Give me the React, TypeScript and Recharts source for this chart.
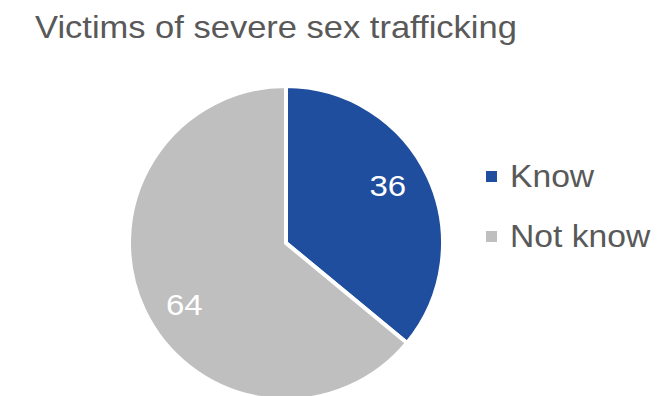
import React from 'react';
import { Cell, Legend, Pie, PieChart } from 'recharts';

const categories = ['Know', 'Not know'];
const values = [36, 64];
const sliceColors = ['#1F4E9E', '#BFBFBF'];

const TITLE = 'Victims of severe sex trafficking';
const FONT = '"Liberation Sans", Arial, Helvetica, sans-serif';
const RADIAN = Math.PI / 180;

const data = categories.map((name, index) => ({ name, value: values[index] }));

type LabelProps = {
  cx: number;
  cy: number;
  midAngle: number;
  outerRadius: number;
  value: number;
};

function SliceLabel({ cx, cy, midAngle, outerRadius, value }: LabelProps) {
  // excel nudges the labels a little counter-clockwise from the mid angle
  const angle = (midAngle + 5) * RADIAN;
  const r = outerRadius * 0.75;
  const x = cx + r * Math.cos(-angle);
  const y = cy + r * Math.sin(-angle) + 2;
  return (
    <text
      x={0}
      y={0}
      transform={`translate(${x},${y}) scale(1.1,1)`}
      fill="#fff"
      textAnchor="middle"
      dominantBaseline="central"
      style={{ fontFamily: FONT, fontSize: 30 }}
    >
      {value}
    </text>
  );
}

function LegendContent({ payload }: { payload?: Array<{ value: string; color: string }> }) {
  if (!payload) {
    return null;
  }
  return (
    <div style={{ fontFamily: FONT }}>
      {payload.map(entry => (
        <div key={entry.value} style={{ display: 'flex', alignItems: 'center', height: 60 }}>
          <span style={{ width: 11, height: 11, background: entry.color, marginRight: 13, display: 'inline-block' }} />
          <span
            style={{
              fontSize: 31,
              lineHeight: 1,
              color: '#595959',
              display: 'inline-block',
              transform: 'scaleX(1.085)',
              transformOrigin: 'left center',
              whiteSpace: 'nowrap'
            }}
          >
            {entry.value}
          </span>
        </div>
      ))}
    </div>
  );
}

export default function App() {
  return (
    <div style={{ position: 'absolute', left: 0, top: 0, width: 661, height: 396, background: '#fff', overflow: 'hidden' }}>
      <div
        style={{
          position: 'absolute',
          left: 35,
          top: 11,
          fontFamily: FONT,
          fontSize: 32,
          lineHeight: 1,
          color: '#595959',
          whiteSpace: 'nowrap',
          transform: 'scaleX(1.078)',
          transformOrigin: 'left center',
          zIndex: 1
        }}
      >
        {TITLE}
      </div>
      <PieChart width={661} height={396} margin={{ top: 0, right: 0, bottom: 0, left: 0 }}>
        <Pie
          data={data}
          dataKey="value"
          nameKey="name"
          cx={286}
          cy={243}
          outerRadius={157}
          startAngle={90}
          endAngle={-270}
          stroke="#fff"
          strokeWidth={4}
          label={SliceLabel}
          labelLine={false}
          isAnimationActive={false}
        >
          {data.map((entry, index) => (
            <Cell key={entry.name} fill={sliceColors[index]} />
          ))}
        </Pie>
        <Legend
          layout="vertical"
          align="right"
          verticalAlign="top"
          content={<LegendContent />}
          wrapperStyle={{ left: 486, top: 146, right: 'auto', width: 'auto' }}
        />
      </PieChart>
    </div>
  );
}
